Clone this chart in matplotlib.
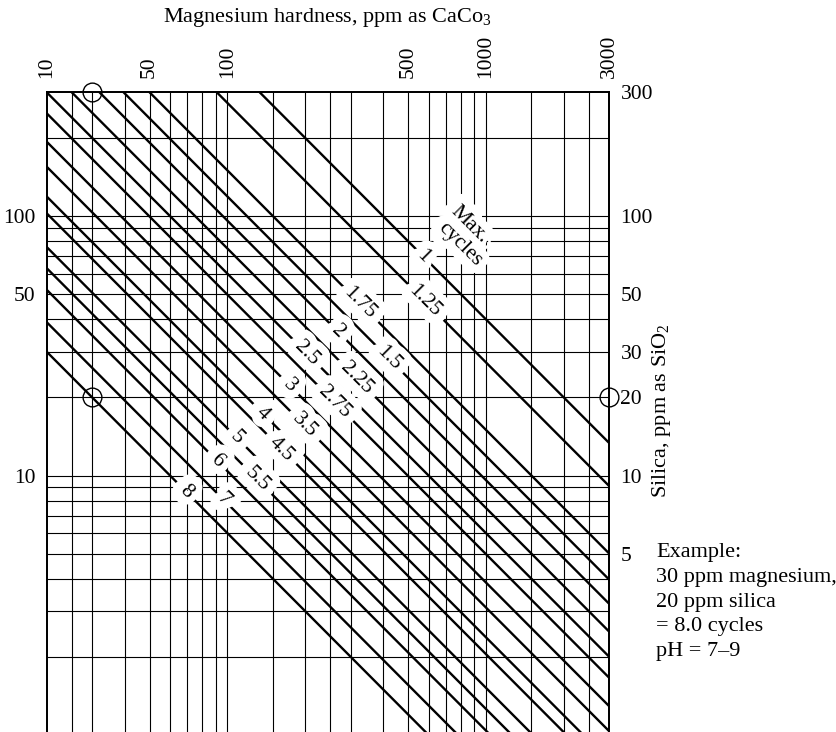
import numpy as np
import matplotlib
matplotlib.use("Agg")
import matplotlib.pyplot as plt
import matplotlib.patheffects as pe
from matplotlib.ticker import NullLocator

plt.rcParams['font.family'] = ['Liberation Serif', 'DejaVu Serif']
plt.rcParams['mathtext.fontset'] = 'custom'
plt.rcParams['mathtext.rm'] = 'Liberation Serif'
plt.rcParams['mathtext.default'] = 'regular'

# axis ranges (magnesium as CaCO3, silica as SiO2, both ppm)
mg_range = [20, 3000]
si_range = [1, 300]

# grid lines
mg_grid = [25, 30, 40, 50, 60, 70, 80, 90, 100, 150, 200, 250, 300, 400,
           500, 600, 700, 800, 900, 1000, 1500, 2000, 2500]
si_grid = [200, 100, 90, 80, 70, 60, 50, 40, 30, 20, 10, 9, 8, 7, 6, 5, 4, 3, 2]

# tick labels
mg_ticks = [20, 50, 100, 500, 1000, 3000]
mg_ticklabels = ["10", "50", "100", "500", "1000", "3000"]
si_ticks_left = [100, 50, 10]
si_ticks_right = [300, 100, 50, 30, 20, 10, 5]

# max cycles lines: Mg x SiO2 constant along each line
cycles = ["8", "7", "6", "5.5", "5", "4.5", "4", "3.5", "3", "2.75",
          "2.5", "2.25", "2", "1.5", "1.75", "1.25", "1"]
product = [600, 780, 1040, 1260, 1520, 2050, 2380, 3100, 3870, 4980,
           6000, 7500, 9600, 11900, 15000, 27300, 40000]
# where each label sits along its line (Mg value)
label_mg = [69, 97, 91, 130, 109, 162, 137, 199, 174, 260,
            202, 316, 268, 419, 325, 581, 572]

# heading of the cycle labels: (text, Mg, SiO2)
heading = [("Max.", 865, 93), ("cycles", 790, 78)]

# worked example
example_mg = 30
example_si = 20
example_lines = ["Example:", "30 ppm magnesium,", "20 ppm silica",
                 "= 8.0 cycles", "pH = 7\u20139"]

W, H = 837, 732
fig = plt.figure(figsize=(W / 100, H / 100), dpi=100)
ax = fig.add_axes([46.7 / W, (H - 735) / H, 562.6 / W, 642.7 / H])
ax.set_xscale('log')
ax.set_yscale('log')
ax.set_xlim(*mg_range)
ax.set_ylim(*si_range)

for v in mg_grid:
    ax.axvline(v, color='black', lw=0.8, zorder=1)
for v in si_grid:
    ax.axhline(v, color='black', lw=0.8, zorder=1)

mg_line = np.array([10, 5000])
for p in product:
    ax.plot(mg_line, p / mg_line, color='black', lw=1.7, zorder=2)

# labels: white halo layer first, then the text on top of every halo
items = [(c, m, p / m) for c, p, m in zip(cycles, product, label_mg)]
items += heading
halo = [pe.withStroke(linewidth=12, foreground='white')]
for txt, x, y in items:
    ax.text(x, y, txt, rotation=-45, rotation_mode='anchor', ha='center',
            va='center', fontsize=15.5, color='white', zorder=4,
            path_effects=halo)
for txt, x, y in items:
    ax.text(x, y, txt, rotation=-45, rotation_mode='anchor', ha='center',
            va='center', fontsize=15.5, color='black', zorder=5)

# example markers
ax.plot([example_mg, example_mg, mg_range[1]],
        [si_range[1], example_si, example_si], 'o', mfc='none',
        mec='black', ms=13.5, mew=1.0, clip_on=False, zorder=6)

ax.xaxis.tick_top()
ax.set_xticks(mg_ticks, mg_ticklabels, rotation=90, fontsize=15.5)
ax.set_yticks(si_ticks_left, [str(v) for v in si_ticks_left], fontsize=15.5)
ax.xaxis.set_minor_locator(NullLocator())
ax.yaxis.set_minor_locator(NullLocator())
ax.tick_params(length=0)
ax.tick_params(axis='x', pad=10)
ax.tick_params(axis='y', pad=8)

ax_r = ax.twinx()
ax_r.set_yscale('log')
ax_r.set_ylim(*si_range)
ax_r.set_yticks(si_ticks_right, [str(v) for v in si_ticks_right],
                fontsize=15.5)
ax_r.yaxis.set_minor_locator(NullLocator())
ax_r.tick_params(length=0, pad=8)

for a in (ax, ax_r):
    for s in a.spines.values():
        s.set_linewidth(1.3)

fig.text(327 / W, 1 - 17.5 / H, "Magnesium hardness, ppm as CaCo$_3$",
         ha='center', va='center', fontsize=16)
fig.text(662 / W, 1 - 411 / H, "Silica, ppm as SiO$_2$", rotation=90,
         ha='center', va='center', fontsize=16)
for i, line in enumerate(example_lines):
    fig.text(656 / W, 1 - (553 + i * 24.6) / H, line,
             ha='left', va='center', fontsize=16)

fig.savefig('out.png', dpi=100)
